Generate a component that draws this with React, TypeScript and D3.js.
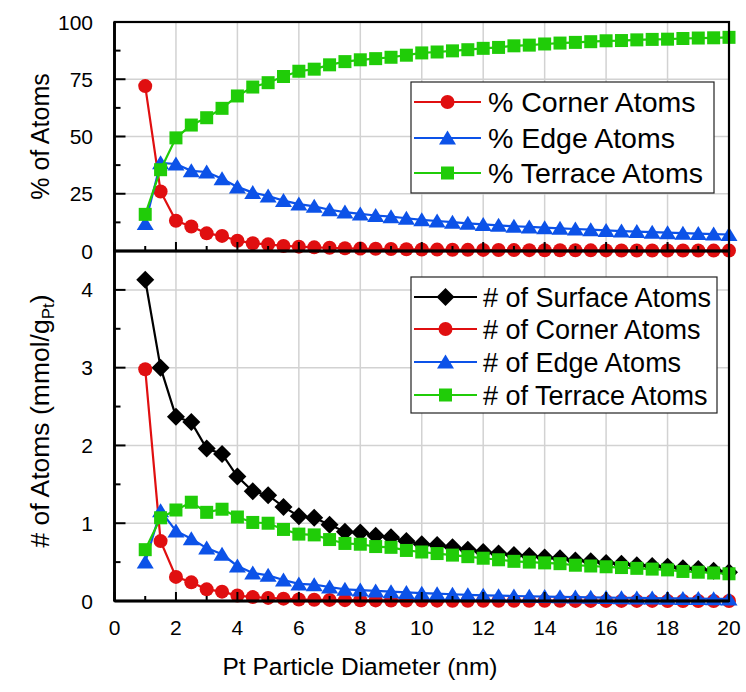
import React from "react";
import * as d3 from "d3";

const diameters = [1, 1.5, 2, 2.5, 3, 3.5, 4, 4.5, 5, 5.5, 6, 6.5, 7, 7.5, 8, 8.5, 9, 9.5, 10, 10.5, 11, 11.5, 12, 12.5, 13, 13.5, 14, 14.5, 15, 15.5, 16, 16.5, 17, 17.5, 18, 18.5, 19, 19.5, 20];

const pctCorner = [72, 26, 13.2, 10.7, 7.7, 6.6, 4.5, 3.4, 2.9, 2.2, 1.9, 1.6, 1.4, 1.2, 1.05, 0.95, 0.85, 0.75, 0.68, 0.62, 0.56, 0.51, 0.47, 0.43, 0.4, 0.37, 0.35, 0.32, 0.3, 0.28, 0.27, 0.25, 0.24, 0.22, 0.21, 0.2, 0.19, 0.18, 0.17];
const pctEdge = [12, 38.5, 38, 35, 34.5, 31.5, 28, 25.5, 24, 22, 20.5, 19.5, 18, 17, 16.2, 15.5, 15, 14.3, 13.6, 13.1, 12.6, 12.1, 11.6, 11.2, 10.8, 10.5, 10.2, 9.9, 9.6, 9.3, 9.0, 8.7, 8.5, 8.2, 8.0, 7.8, 7.6, 7.4, 7.2];
const pctTerrace = [16, 35.5, 49.4, 55, 58.2, 62.3, 67.7, 71.6, 73.5, 76.2, 78.5, 79.4, 81.3, 82.7, 83.5, 84, 84.6, 85.5, 86.5, 86.9, 87.4, 87.9, 88.5, 88.9, 89.6, 89.9, 90.4, 90.8, 91.1, 91.4, 91.8, 91.9, 92.2, 92.4, 92.5, 92.8, 93, 93.1, 93.3];

const numSurface = [4.13, 3.0, 2.37, 2.3, 1.96, 1.89, 1.6, 1.41, 1.36, 1.21, 1.09, 1.07, 0.98, 0.89, 0.88, 0.84, 0.82, 0.77, 0.73, 0.72, 0.69, 0.66, 0.63, 0.61, 0.59, 0.58, 0.56, 0.55, 0.52, 0.51, 0.49, 0.48, 0.46, 0.45, 0.44, 0.42, 0.41, 0.39, 0.37];
const numCorner = [2.98, 0.77, 0.31, 0.24, 0.15, 0.12, 0.07, 0.05, 0.04, 0.03, 0.02, 0.017, 0.014, 0.011, 0.009, 0.008, 0.007, 0.006, 0.005, 0.0045, 0.004, 0.0034, 0.003, 0.0026, 0.0024, 0.0021, 0.0019, 0.0017, 0.0016, 0.0014, 0.0013, 0.0012, 0.0011, 0.001, 0.0009, 0.0008, 0.0008, 0.0007, 0.0006];
const numEdge = [0.5, 1.16, 0.9, 0.8, 0.68, 0.6, 0.45, 0.36, 0.33, 0.27, 0.22, 0.21, 0.18, 0.15, 0.14, 0.13, 0.12, 0.11, 0.1, 0.094, 0.087, 0.08, 0.073, 0.068, 0.064, 0.061, 0.057, 0.054, 0.05, 0.047, 0.044, 0.042, 0.039, 0.037, 0.035, 0.033, 0.031, 0.029, 0.027];
const numTerrace = [0.66, 1.07, 1.17, 1.27, 1.14, 1.18, 1.08, 1.01, 1.0, 0.92, 0.86, 0.85, 0.79, 0.74, 0.73, 0.7, 0.69, 0.65, 0.63, 0.61, 0.59, 0.57, 0.55, 0.53, 0.51, 0.5, 0.49, 0.48, 0.46, 0.45, 0.44, 0.43, 0.42, 0.41, 0.4, 0.38, 0.37, 0.36, 0.35];

const xTicks = [0, 2, 4, 6, 8, 10, 12, 14, 16, 18, 20];
const xMinorTicks = [1, 3, 5, 7, 9, 11, 13, 15, 17, 19];
const topYTicks = [0, 25, 50, 75, 100];
const topYMinor = [12.5, 37.5, 62.5, 87.5];
const botYTicks = [0, 1, 2, 3, 4];
const botYMinor = [0.5, 1.5, 2.5, 3.5];

const topLegend = ["% Corner Atoms", "% Edge Atoms", "% Terrace Atoms"];
const botLegend = ["# of Surface Atoms", "# of Corner Atoms", "# of Edge Atoms", "# of Terrace Atoms"];

const RED = "#e00f10";
const BLUE = "#0c52e8";
const GREEN = "#20cc08";
const BLACK = "#000000";
const GRID = "#d2d2d2";
const FONT = "'Liberation Sans', Arial, Helvetica, sans-serif";

type Shape = "circle" | "triangle" | "square" | "diamond";

function Marker({ shape, x, y, color }: { shape: Shape; x: number; y: number; color: string }) {
  if (shape === "circle") return <circle cx={x} cy={y} r={7} fill={color} />;
  if (shape === "square") return <rect x={x - 6.5} y={y - 6.5} width={13} height={13} fill={color} />;
  if (shape === "triangle")
    return <path d={`M${x},${y - 7.5}L${x + 8.5},${y + 6.5}L${x - 8.5},${y + 6.5}Z`} fill={color} />;
  return <path d={`M${x},${y - 9}L${x + 9},${y}L${x},${y + 9}L${x - 9},${y}Z`} fill={color} />;
}

export default function App() {
  const x = d3.scaleLinear().domain([0, 20]).range([114.5, 729]);
  const yTop = d3.scaleLinear().domain([0, 100]).range([251, 22]);
  const yBot = d3.scaleLinear().domain([0, 4.5]).range([601, 251]);

  const topSeries = [
    { vals: pctCorner, color: RED, shape: "circle" as Shape },
    { vals: pctEdge, color: BLUE, shape: "triangle" as Shape },
    { vals: pctTerrace, color: GREEN, shape: "square" as Shape },
  ];
  const botSeries = [
    { vals: numSurface, color: BLACK, shape: "diamond" as Shape },
    { vals: numCorner, color: RED, shape: "circle" as Shape },
    { vals: numEdge, color: BLUE, shape: "triangle" as Shape },
    { vals: numTerrace, color: GREEN, shape: "square" as Shape },
  ];

  const renderPanel = (series: typeof topSeries, y: d3.ScaleLinear<number, number>, key: string) => {
    const line = d3
      .line<number>()
      .x((_, i) => x(diameters[i]))
      .y((v) => y(v));
    return (
      <g key={key}>
        {series.map((s, si) => (
          <g key={si}>
            <path d={line(s.vals) || ""} fill="none" stroke={s.color} strokeWidth={2.2} />
            {s.vals.map((v, i) => (
              <Marker key={i} shape={s.shape} x={x(diameters[i])} y={y(v)} color={s.color} />
            ))}
          </g>
        ))}
      </g>
    );
  };

  const [x0, x1] = x.range();
  const topT = yTop(100), topB = yTop(0);
  const botT = yBot(4.5), botB = yBot(0);

  const grid = (
    <g>
      {xTicks.slice(1, -1).map((t) => (
        <g key={"gx" + t}>
          <line x1={x(t)} x2={x(t)} y1={topT} y2={topB} stroke={GRID} strokeWidth={1.5} />
          <line x1={x(t)} x2={x(t)} y1={botT} y2={botB} stroke={GRID} strokeWidth={1.5} />
        </g>
      ))}
      {topYTicks.slice(1, -1).map((t) => (
        <line key={"gyt" + t} x1={x0} x2={x1} y1={yTop(t)} y2={yTop(t)} stroke={GRID} strokeWidth={1.5} />
      ))}
      {botYTicks.slice(1).map((t) => (
        <line key={"gyb" + t} x1={x0} x2={x1} y1={yBot(t)} y2={yBot(t)} stroke={GRID} strokeWidth={1.5} />
      ))}
    </g>
  );

  const ticks = (
    <g stroke="#000" strokeWidth={2}>
      {[topB, botB].map((yb, k) => (
        <g key={"xt" + k}>
          {xTicks.map((t) => (
            <line key={"M" + t} x1={x(t)} x2={x(t)} y1={yb} y2={yb - 9} />
          ))}
          {xMinorTicks.map((t) => (
            <line key={"m" + t} x1={x(t)} x2={x(t)} y1={yb} y2={yb - 5} />
          ))}
        </g>
      ))}
      {topYTicks.map((t) => (
        <line key={"ty" + t} x1={x0} x2={x0 + 11} y1={yTop(t)} y2={yTop(t)} />
      ))}
      {topYMinor.map((t) => (
        <line key={"tym" + t} x1={x0} x2={x0 + 6} y1={yTop(t)} y2={yTop(t)} />
      ))}
      {botYTicks.map((t) => (
        <line key={"by" + t} x1={x0} x2={x0 + 11} y1={yBot(t)} y2={yBot(t)} />
      ))}
      {botYMinor.map((t) => (
        <line key={"bym" + t} x1={x0} x2={x0 + 6} y1={yBot(t)} y2={yBot(t)} />
      ))}
    </g>
  );

  const frame = (
    <g fill="none" stroke="#000">
      <rect x={x0} y={topT} width={x1 - x0} height={topB - topT} strokeWidth={2.2} />
      <rect x={x0} y={botT} width={x1 - x0} height={botB - botT} strokeWidth={2.2} />
      <line x1={x0} x2={x1} y1={topB} y2={topB} strokeWidth={2.8} />
      <line x1={x0} x2={x1} y1={botB} y2={botB} strokeWidth={2.8} />
      <line x1={x0} x2={x0} y1={topT} y2={botB} strokeWidth={2.8} />
    </g>
  );

  const legend = (
    items: string[],
    series: typeof topSeries,
    box: { x: number; y: number; w: number; h: number },
    rowY: number[],
    lineX: [number, number],
    textX: number,
    fs: number,
    key: string
  ) => (
    <g key={key}>
      <rect x={box.x} y={box.y} width={box.w} height={box.h} fill="#fff" stroke="#222" strokeWidth={1.2} />
      {items.map((label, i) => (
        <g key={i}>
          <line x1={lineX[0]} x2={lineX[1]} y1={rowY[i]} y2={rowY[i]} stroke={series[i].color} strokeWidth={2.2} />
          <Marker shape={series[i].shape} x={(lineX[0] + lineX[1]) / 2} y={rowY[i]} color={series[i].color} />
          <text x={textX} y={rowY[i]} dy="0.36em" fontSize={fs} fontFamily={FONT} fill="#000">
            {label}
          </text>
        </g>
      ))}
    </g>
  );

  return (
    <svg
      width={746}
      height={692}
      style={{ position: "absolute", left: 0, top: 0, background: "#fff" }}
    >
      <rect x={0} y={0} width={746} height={692} fill="#fff" />
      {grid}
      {renderPanel(topSeries, yTop, "top")}
      {renderPanel(botSeries, yBot, "bot")}
      {ticks}
      {frame}
      {legend(topLegend, topSeries, { x: 411, y: 82, w: 303, h: 111 }, [102, 138, 173], [414, 481], 488, 28.5, "lt")}
      {legend(botLegend, botSeries, { x: 411, y: 277, w: 306, h: 136 }, [297, 329, 362, 395], [414, 477], 483, 27, "lb")}
      <g fontFamily={FONT} fontSize={21} fill="#000">
        {xTicks.map((t) => (
          <text key={"xl" + t} x={x(t)} y={635} textAnchor="middle">
            {t}
          </text>
        ))}
        {topYTicks.map((t) => (
          <text key={"tl" + t} x={93} y={yTop(t)} dy="0.36em" textAnchor="end">
            {t}
          </text>
        ))}
        {botYTicks.map((t) => (
          <text key={"bl" + t} x={93} y={yBot(t)} dy="0.36em" textAnchor="end">
            {t}
          </text>
        ))}
      </g>
      <text x={360} y={675} textAnchor="middle" fontFamily={FONT} fontSize={24.5} fill="#000">
        Pt Particle Diameter (nm)
      </text>
      <text
        transform={`translate(49,${(topT + topB) / 2}) rotate(-90)`}
        textAnchor="middle"
        fontFamily={FONT}
        fontSize={25}
        fill="#000"
      >
        % of Atoms
      </text>
      <text
        transform={`translate(49,421) rotate(-90)`}
        textAnchor="middle"
        fontFamily={FONT}
        fontSize={26.5}
        fill="#000"
      >
        # of Atoms (mmol/g
        <tspan fontSize={17} dy={5}>Pt</tspan>
        <tspan dy={-5}>)</tspan>
      </text>
    </svg>
  );
}
